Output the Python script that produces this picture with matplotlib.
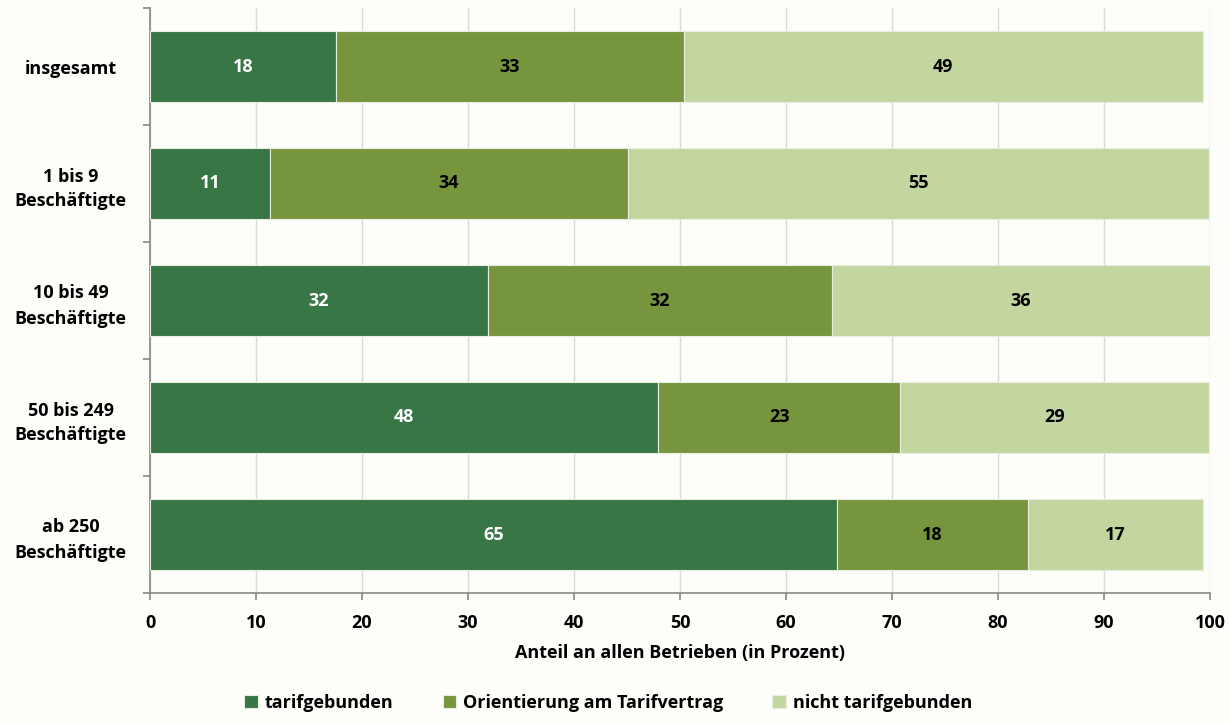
import numpy as np
import matplotlib.pyplot as plt

# Daten
kategorien = ['insgesamt', '1 bis 9\nBeschäftigte', '10 bis 49\nBeschäftigte',
              '50 bis 249\nBeschäftigte', 'ab 250\nBeschäftigte']
tarifgebunden = [17.5, 11.3, 31.9, 47.9, 64.8]
orientierung = [32.9, 33.8, 32.4, 22.9, 18.0]
nicht_tarif = [48.9, 54.8, 35.7, 29.1, 16.5]
label_tarif = [18, 11, 32, 48, 65]
label_orient = [33, 34, 32, 23, 18]
label_nicht = [49, 55, 36, 29, 17]
serien = ['tarifgebunden', 'Orientierung am Tarifvertrag', 'nicht tarifgebunden']
farben = ['#387646', '#77953D', '#C4D69F']

plt.rcParams['font.family'] = ['Open Sans', 'DejaVu Sans']
plt.rcParams['font.weight'] = 'bold'
fs = 13

fig = plt.figure(figsize=(12.29, 7.23), dpi=100, facecolor='#FDFDF9')
ax = fig.add_axes([150 / 1229, 1 - 593 / 723, 1060 / 1229, 585 / 723])
ax.set_facecolor('#FDFDF9')

y = np.arange(len(kategorien))
links = np.zeros(len(kategorien))
werte = [tarifgebunden, orientierung, nicht_tarif]
labels = [label_tarif, label_orient, label_nicht]
for i in range(3):
    bars = ax.barh(y, werte[i], left=links, height=0.6, color=farben[i],
                   edgecolor='#E8EEDD', linewidth=0.8, label=serien[i], zorder=3)
    ax.bar_label(bars, labels=[str(v) for v in labels[i]], label_type='center',
                 color='white' if i == 0 else 'black', fontsize=fs, fontweight='bold')
    links += np.array(werte[i])

ax.set_xlim(0, 100)
ax.set_ylim(len(kategorien) - 0.5, -0.5)
ax.set_xticks(range(0, 101, 10))
ax.set_yticks(y)
ax.set_yticklabels(kategorien, fontsize=fs, fontweight='bold', linespacing=1.5)
ax.set_yticks(np.arange(-0.5, len(kategorien), 1), minor=True)
ax.tick_params(axis='y', which='major', length=0, pad=57)
ax.tick_params(axis='y', which='minor', length=5, color='#878787', width=1.2)
ax.tick_params(axis='x', length=5, color='#878787', width=1.2, labelsize=fs, pad=10)
for t in ax.get_yticklabels():
    t.set_horizontalalignment('center')
for t in ax.get_xticklabels():
    t.set_fontweight('bold')

ax.grid(axis='x', color='#D9D9D9', linewidth=1, zorder=0)
for s in ['top', 'right']:
    ax.spines[s].set_visible(False)
for s in ['left', 'bottom']:
    ax.spines[s].set_color('#878787')
    ax.spines[s].set_linewidth(1.2)

ax.set_xlabel('Anteil an allen Betrieben (in Prozent)', fontsize=fs, fontweight='bold', labelpad=9)

fig.legend(loc='lower center', bbox_to_anchor=(0.495, 0.0), ncol=3, frameon=False,
           handlelength=0.75, handleheight=0.75, columnspacing=2.7, handletextpad=0.4,
           borderaxespad=0.2, prop={'weight': 'bold', 'size': fs})

fig.savefig('out.png', dpi=100, facecolor=fig.get_facecolor())
